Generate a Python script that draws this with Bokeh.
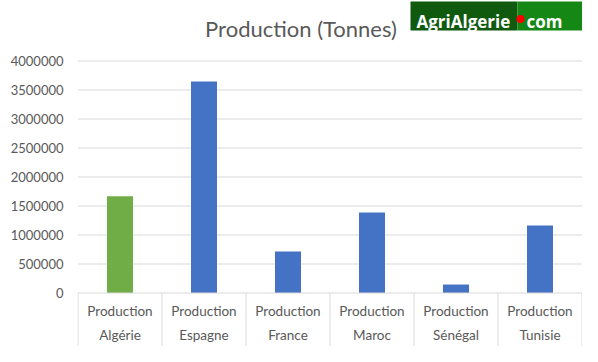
from bokeh.plotting import figure
from bokeh.models import Range1d, FixedTicker, NumeralTickFormatter
from bokeh.core.properties import value
from bokeh.embed import file_html
from bokeh.resources import INLINE

# ---- data ----
countries = ["Algérie", "Espagne", "France", "Maroc", "Sénégal", "Tunisie"]
series_name = "Production"
production = [1669000, 3647000, 715000, 1388000, 146000, 1164000]
highlight = "Algérie"
y_ticks = [0, 500000, 1000000, 1500000, 2000000, 2500000, 3000000, 3500000, 4000000]
title_text = "Production (Tonnes)"
logo_main = "AgriAlgerie"
logo_tail = "com"

# ---- layout (pixel coordinates in the picture) ----
W, H = 582, 346
BORDER_L = 77
PLOT_L, PLOT_R = 77.5, 581.5
AXIS_Y, TOP_Y = 292.5, 60.5
n = len(countries)
cat_px = (PLOT_R - PLOT_L) / n
px_per_unit = (AXIS_Y - TOP_Y) / max(y_ticks)


def xd(px):
    return (px - PLOT_L) / cat_px


def yd(py):
    return (AXIS_Y - py) / px_per_unit


TXT = "#595959"
GRID = "#d9d9d9"

p = figure(width=W, height=H, output_backend="svg", toolbar_location=None,
           x_range=Range1d(xd(BORDER_L), xd(W)),
           y_range=Range1d(yd(H), yd(0)),
           x_axis_location=None)
p.min_border = 0
p.min_border_left = BORDER_L
p.outline_line_color = None
p.background_fill_color = "white"
p.border_fill_color = "white"
p.xgrid.visible = False
p.ygrid.visible = False

ax = p.yaxis[0]
ax.ticker = FixedTicker(ticks=y_ticks)
ax.formatter = NumeralTickFormatter(format="0")
ax.axis_line_color = None
ax.major_tick_line_color = None
ax.minor_tick_line_color = None
ax.major_tick_out = 0
ax.major_tick_in = 0
ax.major_label_standoff = 14
ax.major_label_text_font = "Lato"
ax.major_label_text_font_size = "13px"
ax.major_label_text_color = TXT

# gridlines (within plot area only)
p.segment(x0=[0] * (len(y_ticks) - 1), x1=[n] * (len(y_ticks) - 1),
          y0=y_ticks[1:], y1=y_ticks[1:], line_color=GRID, line_width=1)

# bars
centers = [i + 0.5 for i in range(n)]
colors = ["#70ad47" if c == highlight else "#4472c4" for c in countries]
p.vbar(x=centers, top=production, bottom=0, width=26 / cat_px, fill_color=colors, line_color=None)

# category axis: base line + separators
p.segment(x0=[0], x1=[n], y0=[0], y1=[0], line_color=GRID, line_width=1)
p.segment(x0=list(range(n + 1)), x1=list(range(n + 1)), y0=[0] * (n + 1),
          y1=[yd(351)] * (n + 1), line_color=GRID, line_width=1)

p.text(x=centers, y=[yd(310)] * n, text=[series_name] * n, text_align="center",
       text_baseline="middle", text_font=value("Lato"), text_font_size="13.5px", text_color=TXT)
p.text(x=centers, y=[yd(334.5)] * n, text=countries, text_align="center",
       text_baseline="middle", text_font=value("Lato"), text_font_size="13.5px", text_color=TXT)

# title
p.text(x=[xd(300.5)], y=[yd(28)], text=[title_text], text_align="center",
       text_baseline="middle", text_font=value("Lato"), text_font_size="22px", text_color=TXT)

# logo (kept inside the picture's right edge)
p.quad(left=[xd(410)], right=[xd(517)], top=[yd(1)], bottom=[yd(30)],
       fill_color="#0f5a0f", line_color=None)
p.quad(left=[xd(517)], right=[xd(590)], top=[yd(1)], bottom=[yd(30)],
       fill_color="#148714", line_color=None)
p.text(x=[xd(416)], y=[yd(21)], text=[logo_main], text_align="left",
       text_baseline="alphabetic", text_font=value("Open Sans"), text_font_style="bold",
       text_font_size="17px", text_color="white")
p.scatter(x=[xd(520)], y=[yd(18.5)], marker="circle", size=8, fill_color="#ff0000", line_color=None)
p.text(x=[xd(526)], y=[yd(21)], text=[logo_tail], text_align="left",
       text_baseline="alphabetic", text_font=value("Open Sans"), text_font_style="bold",
       text_font_size="17px", text_color="white")

open("out.html", "w").write(file_html(p, INLINE))
